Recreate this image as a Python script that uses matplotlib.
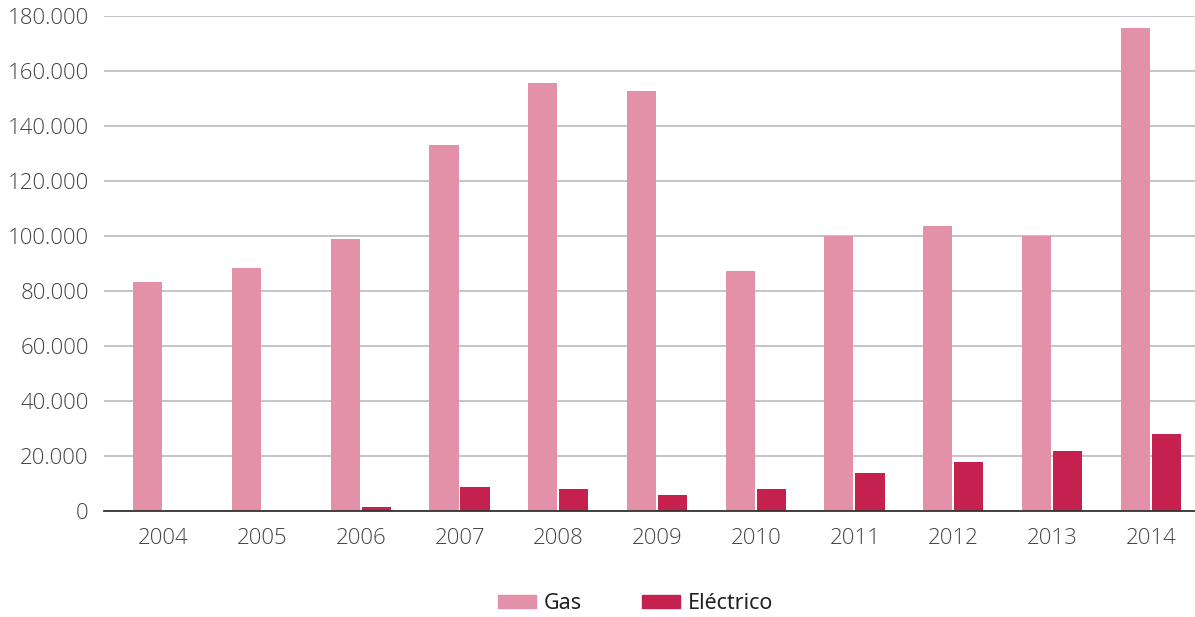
import matplotlib.pyplot as plt
import numpy as np
from matplotlib.ticker import FuncFormatter, MultipleLocator
from matplotlib.patches import Patch

years = ['2004', '2005', '2006', '2007', '2008', '2009', '2010', '2011', '2012', '2013', '2014']
gas = [83300, 88300, 98800, 133000, 155600, 152700, 87200, 100000, 103600, 100000, 175700]
electrico = [0, 0, 1500, 8800, 8000, 5900, 8000, 13900, 17800, 21800, 28000]

color_gas = '#E291A8'
color_elec = '#C4214F'

fig = plt.figure(figsize=(11.95, 6.17), dpi=100)
ax = fig.add_axes([0.087, 0.172, 0.913, 0.802])

x = np.arange(len(years))
ax.bar(x - 0.16, gas, width=0.295, color=color_gas, zorder=3)
ax.bar(x + 0.155, electrico, width=0.295, color=color_elec, zorder=3)

ax.set_xlim(-0.603, 10.446)
ax.set_ylim(0, 180000)
ax.yaxis.set_major_locator(MultipleLocator(20000))

def miles(v, pos):
    return f'{int(v):,}'.replace(',', '.')

ax.yaxis.set_major_formatter(FuncFormatter(miles))
ax.set_xticks(x)
ax.set_xticklabels(years)

ax.grid(axis='y', color='#c4c4c4', linewidth=1.4, zorder=0)
ax.grid(axis='x', visible=False)
for s in ['top', 'right', 'left']:
    ax.spines[s].set_visible(False)
ax.spines['bottom'].set_color('#333333')
ax.spines['bottom'].set_linewidth(1.3)
ax.spines['bottom'].set_zorder(4)

ax.tick_params(axis='both', length=0, labelsize=16, labelcolor='#444444')
ax.tick_params(axis='x', pad=12)
ax.tick_params(axis='y', pad=11)
for lbl in ax.get_xticklabels() + ax.get_yticklabels():
    lbl.set_fontfamily('Open Sans')
    lbl.set_fontweight('light')

handles = [Patch(color=color_gas, label='Gas'), Patch(color=color_elec, label='Eléctrico')]
leg = fig.legend(handles=handles, loc='center', bbox_to_anchor=(0.532, 0.022), ncol=2,
                 frameon=False, handlelength=1.75, handleheight=0.6,
                 columnspacing=2.8, handletextpad=0.38,
                 prop={'family': 'Noto Sans', 'size': 15.5})
for t in leg.get_texts():
    t.set_color('#222222')

fig.savefig('out.png', dpi=100)
